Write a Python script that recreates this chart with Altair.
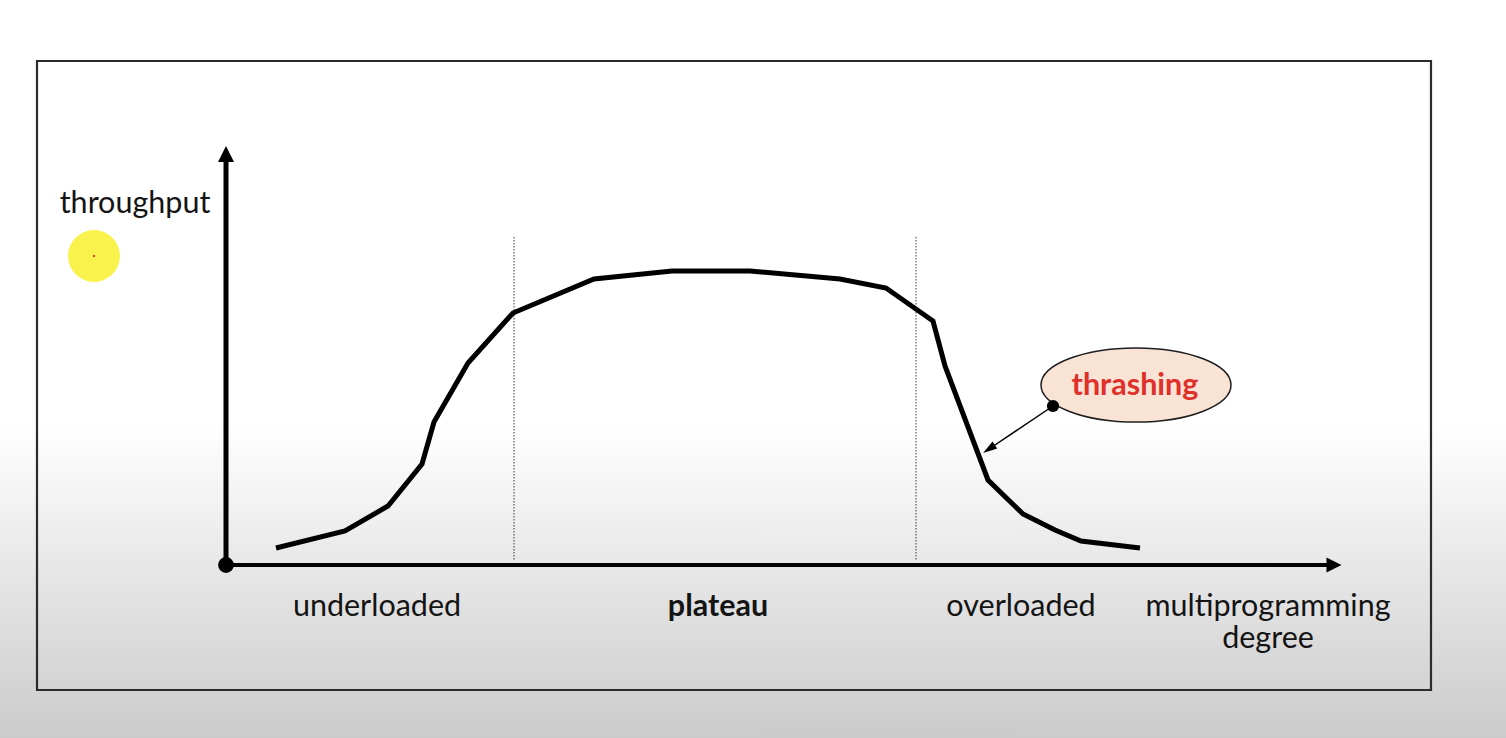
import altair as alt
import pandas as pd

# ---- data (chart units: multiprogramming degree vs throughput) ----
curve_x = [5.0, 11.9, 16.2, 19.6, 20.8, 24.2, 28.7, 36.8, 44.6, 52.4, 61.4, 66.0, 70.7, 71.9, 76.2, 79.7, 82.9, 85.5, 91.4]
curve_y = [1.7, 3.4, 5.9, 10.1, 14.3, 20.2, 25.2, 28.6, 29.4, 29.4, 28.6, 27.7, 24.4, 19.9, 8.5, 5.1, 3.5, 2.4, 1.7]

region_bounds = [28.8, 69.0]          # dotted separators
region_top = 32.8
region_bottom = 0.5

region_labels = ["underloaded", "plateau", "overloaded"]
region_label_x = [15.1, 49.2, 79.5]
region_label_weight = ["normal", "bold", "normal"]

y_axis_title = "throughput"
x_axis_title = "multiprogramming\ndegree"
annotation = "thrashing"

X_DOMAIN = [-22.6, 128.0]
Y_DOMAIN = [-17.3, 56.5]
xs = alt.Scale(domain=X_DOMAIN, nice=False, zero=False)
ys = alt.Scale(domain=Y_DOMAIN, nice=False, zero=False)

FONT = "Lato"
FS = 30.5


def X(f="x"):
    return alt.X(f"{f}:Q", scale=xs, axis=None)


def Y(f="y"):
    return alt.Y(f"{f}:Q", scale=ys, axis=None)


# background gradient
bg = alt.Chart(pd.DataFrame({"x": [X_DOMAIN[0]], "x2": [X_DOMAIN[1]],
                             "y": [Y_DOMAIN[1]], "y2": [Y_DOMAIN[0]]})).mark_rect(
    fill=alt.Gradient(gradient="linear",
                      stops=[alt.GradientStop(color="#ffffff", offset=0),
                             alt.GradientStop(color="#ffffff", offset=0.575),
                             alt.GradientStop(color="#cbcbcb", offset=1)],
                      x1=0, x2=0, y1=0, y2=1),
    stroke="transparent",
).encode(x=X(), x2="x2:Q", y=Y(), y2="y2:Q")

frame = alt.Chart(pd.DataFrame({"x": [-18.9], "x2": [120.5], "y": [50.4], "y2": [-12.5]})).mark_rect(
    fillOpacity=0, stroke="#2b2b2b", strokeWidth=2.2
).encode(x=X(), x2="x2:Q", y=Y(), y2="y2:Q")

cursor = alt.Chart(pd.DataFrame({"x": [-13.2], "y": [30.9]})).mark_point(
    shape="circle", size=2700, filled=True, color="#f9f24c", opacity=1
).encode(x=X(), y=Y())
cursor_dot = alt.Chart(pd.DataFrame({"x": [-13.2], "y": [30.9]})).mark_point(
    shape="circle", size=5, filled=True, color="#d02020", opacity=1
).encode(x=X(), y=Y())

seps = alt.Chart(pd.DataFrame({"x": region_bounds, "y": [region_top] * 2, "y2": [region_bottom] * 2})).mark_rule(
    color="#3a3a3a", strokeWidth=1, strokeDash=[1.5, 1.5]
).encode(x=X(), y=Y(), y2="y2:Q")

curve = alt.Chart(pd.DataFrame({"x": curve_x, "y": curve_y, "i": list(range(len(curve_x)))})).mark_line(
    color="#000000", strokeWidth=5, strokeJoin="miter"
).encode(x=X(), y=Y(), order="i:Q")

y_axis = alt.Chart(pd.DataFrame({"x": [0.0], "y": [0.0], "y2": [41.0]})).mark_rule(
    color="#000000", strokeWidth=5
).encode(x=X(), y=Y(), y2="y2:Q")
x_axis = alt.Chart(pd.DataFrame({"x": [0.0], "x2": [110.8], "y": [0.0]})).mark_rule(
    color="#000000", strokeWidth=4
).encode(x=X(), x2="x2:Q", y=Y())

ARROW = "M0,-1L1,1L-1,1Z"
y_head = alt.Chart(pd.DataFrame({"x": [0.0], "y": [41.1]})).mark_point(
    shape=ARROW, size=256, filled=True, color="#000000", opacity=1
).encode(x=X(), y=Y())
x_head = alt.Chart(pd.DataFrame({"x": [110.8], "y": [0.0]})).mark_point(
    shape=ARROW, size=225, filled=True, color="#000000", opacity=1, angle=90
).encode(x=X(), y=Y())
origin = alt.Chart(pd.DataFrame({"x": [0.0], "y": [0.0]})).mark_point(
    shape="circle", size=250, filled=True, color="#000000", opacity=1
).encode(x=X(), y=Y())

ELLIPSE = "M-1,0A1,0.39,0,1,0,1,0A1,0.39,0,1,0,-1,0Z"
bubble = alt.Chart(pd.DataFrame({"x": [91.0], "y": [18.0]})).mark_point(
    shape=ELLIPSE, size=36100, filled=True, fill="#f8e3d5", stroke="#1e1e1e",
    strokeWidth=1.5, opacity=1, fillOpacity=1, strokeOpacity=1
).encode(x=X(), y=Y())

pointer = alt.Chart(pd.DataFrame({"x": [82.7], "y": [15.9], "x2": [76.6], "y2": [11.8]})).mark_rule(
    color="#000000", strokeWidth=1.5
).encode(x=X(), y=Y(), x2="x2:Q", y2="y2:Q")
pointer_head = alt.Chart(pd.DataFrame({"x": [76.3], "y": [11.6]})).mark_point(
    shape="M0,-1L0.6,1L-0.6,1Z", size=200, filled=True, color="#000000", opacity=1, angle=236
).encode(x=X(), y=Y())
pointer_dot = alt.Chart(pd.DataFrame({"x": [82.7], "y": [15.9]})).mark_point(
    shape="circle", size=150, filled=True, color="#000000", opacity=1
).encode(x=X(), y=Y())

bubble_text = alt.Chart(pd.DataFrame({"x": [90.9], "y": [17.0], "t": [annotation]})).mark_text(
    font=FONT, fontSize=FS, fontWeight="bold", color="#e0302a", align="center", baseline="alphabetic"
).encode(x=X(), y=Y(), text="t:N")

labels_df = pd.DataFrame({"x": region_label_x, "y": [-5.1] * 3, "t": region_labels, "w": region_label_weight})
labels_normal = alt.Chart(labels_df[labels_df.w == "normal"]).mark_text(
    font=FONT, fontSize=FS, color="#141414", align="center", baseline="alphabetic"
).encode(x=X(), y=Y(), text="t:N")
labels_bold = alt.Chart(labels_df[labels_df.w == "bold"]).mark_text(
    font=FONT, fontSize=FS, fontWeight="bold", color="#141414", align="center", baseline="alphabetic"
).encode(x=X(), y=Y(), text="t:N")

y_title = alt.Chart(pd.DataFrame({"x": [-9.1], "y": [35.2], "t": [y_axis_title]})).mark_text(
    font=FONT, fontSize=FS, color="#141414", align="center", baseline="alphabetic"
).encode(x=X(), y=Y(), text="t:N")

x_title = alt.Chart(pd.DataFrame({"x": [104.2], "y": [-5.1], "t": [x_axis_title]})).mark_text(
    font=FONT, fontSize=FS, color="#141414", align="center", baseline="alphabetic",
    lineBreak="\n", lineHeight=32
).encode(x=X(), y=Y(), text="t:N")

chart = alt.layer(
    bg, frame, cursor, cursor_dot, seps, curve, y_axis, x_axis, y_head, x_head, origin,
    bubble, pointer, pointer_head, pointer_dot, bubble_text, labels_normal, labels_bold, y_title, x_title
).properties(
    width=1506, height=738, padding=0, autosize=alt.AutoSizeParams(type="none")
).configure_view(stroke=None)

chart.save("out.html", embed_options={"renderer": "svg", "actions": False})
